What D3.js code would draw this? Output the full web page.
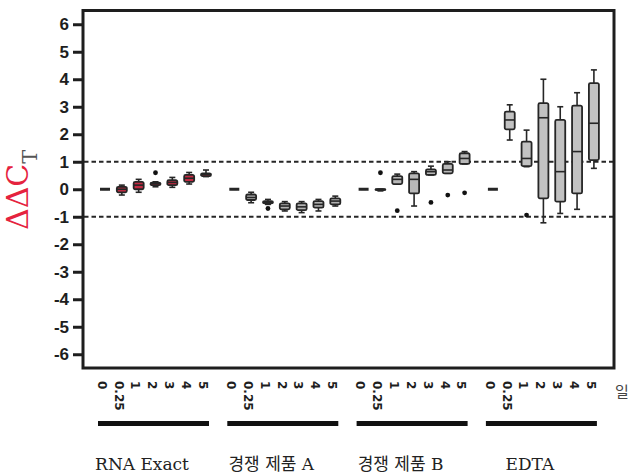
<!DOCTYPE html>
<html>
<head>
<meta charset="utf-8">
<script src="https://cdn.jsdelivr.net/npm/d3@7"></script>
<style>
  body { margin: 0; background: #fff; }
  svg { display: block; }
</style>
</head>
<body>
<svg id="chart"></svg>
<script>
const groups = ["RNA Exact", "경쟁 제품 A", "경쟁 제품 B", "EDTA"];
const days = ["0", "0.25", "1", "2", "3", "4", "5"];
const yTicks = [-6, -5, -4, -3, -2, -1, 0, 1, 2, 3, 4, 5, 6];
const refLines = [1, -1];

// each entry: [low whisker, q1, median, q3, high whisker]
const rnaExact = [
  [0, 0, 0, 0, 0],
  [-0.21, -0.11, 0, 0.09, 0.15],
  [-0.11, 0, 0.15, 0.27, 0.36],
  [0.09, 0.15, 0.21, 0.24, 0.27],
  [0.07, 0.15, 0.25, 0.33, 0.43],
  [0.19, 0.27, 0.4, 0.52, 0.61],
  [0.46, 0.48, 0.54, 0.58, 0.7]
];
const competitorA = [
  [0, 0, 0, 0, 0],
  [-0.49, -0.39, -0.3, -0.19, -0.11],
  [-0.55, -0.51, -0.47, -0.43, -0.37],
  [-0.79, -0.73, -0.61, -0.51, -0.45],
  [-0.85, -0.76, -0.64, -0.51, -0.45],
  [-0.79, -0.67, -0.55, -0.43, -0.37],
  [-0.61, -0.55, -0.43, -0.33, -0.25]
];
const competitorB = [
  [0, 0, 0, 0, 0],
  [-0.06, -0.03, 0, 0, 0],
  [0.19, 0.19, 0.36, 0.48, 0.55],
  [-0.61, -0.15, 0.36, 0.58, 0.64],
  [0.52, 0.52, 0.64, 0.72, 0.84],
  [0.58, 0.58, 0.7, 0.92, 1.0],
  [0.92, 0.92, 1.12, 1.31, 1.37]
];
const edta = [
  [0, 0, 0, 0, 0],
  [1.79, 2.18, 2.52, 2.82, 3.07],
  [0.82, 0.84, 1.12, 1.73, 2.15],
  [-1.22, -0.33, 2.6, 3.13, 4.0],
  [-0.88, -0.45, 0.64, 2.52, 3.0],
  [-0.73, -0.15, 1.37, 3.04, 3.51],
  [0.76, 1.06, 2.4, 3.86, 4.34]
];
// [group index, day, value]
const outliers = [
  [0, "2", 0.6],
  [1, "1", -0.7],
  [2, "0.25", 0.6],
  [2, "1", -0.78],
  [2, "3", -0.48],
  [2, "4", -0.21],
  [2, "5", -0.13],
  [3, "1", -0.94]
];

const groupStats = [rnaExact, competitorA, competitorB, edta];
const groupFill = ["#c42a42", "#b2b2b2", "#b8b8b8", "#c2c2c2"];

const width = 630;
const height = 474;
const ink = "#262626";

const svg = d3.select("#chart")
  .attr("width", width)
  .attr("height", height);

const y = d3.scaleLinear()
  .domain([-6.5, 6.5])
  .range([368, 10.5]);

const xGroup = d3.scaleBand()
  .domain(groups)
  .range([105, 105 + 4 * 129.3]);

const xDay = d3.scalePoint()
  .domain(days)
  .range([0, 101]);

const boxes = [];
groups.forEach((g, gi) => {
  days.forEach((d, di) => {
    const s = groupStats[gi][di];
    boxes.push({ g, gi, d, lo: s[0], q1: s[1], med: s[2], q3: s[3], hi: s[4] });
  });
});

const xPos = (g, d) => xGroup(g) + xDay(d);

// reference lines
svg.selectAll(".ref")
  .data(refLines)
  .join("line")
  .attr("class", "ref")
  .attr("x1", 84)
  .attr("x2", 614)
  .attr("y1", d => y(d))
  .attr("y2", d => y(d))
  .attr("stroke", ink)
  .attr("stroke-width", 2.2)
  .attr("stroke-dasharray", "4.5,3");

// boxes
const box = svg.selectAll(".box")
  .data(boxes)
  .join("g")
  .attr("class", "box")
  .attr("transform", d => `translate(${xPos(d.g, d.d)},0)`);

box.append("line")
  .attr("y1", d => y(d.hi))
  .attr("y2", d => y(d.lo))
  .attr("stroke", ink)
  .attr("stroke-width", 1.6);

box.selectAll(".cap")
  .data(d => [d.lo, d.hi])
  .join("line")
  .attr("class", "cap")
  .attr("x1", -3)
  .attr("x2", 3)
  .attr("y1", v => y(v))
  .attr("y2", v => y(v))
  .attr("stroke", ink)
  .attr("stroke-width", 1.6);

box.append("rect")
  .attr("x", -5)
  .attr("width", 10)
  .attr("y", d => y(d.q3))
  .attr("height", d => y(d.q1) - y(d.q3))
  .attr("rx", 1.5)
  .attr("fill", d => groupFill[d.gi])
  .attr("stroke", ink)
  .attr("stroke-width", 1.8);

box.append("line")
  .attr("x1", -5)
  .attr("x2", 5)
  .attr("y1", d => y(d.med))
  .attr("y2", d => y(d.med))
  .attr("stroke", ink)
  .attr("stroke-width", d => d.q3 === d.q1 ? 3 : 1.6);

svg.selectAll(".outlier")
  .data(outliers)
  .join("circle")
  .attr("class", "outlier")
  .attr("cx", d => xPos(groups[d[0]], d[1]))
  .attr("cy", d => y(d[2]))
  .attr("r", 2.4)
  .attr("fill", "#111");

// frame
svg.append("rect")
  .attr("x", 83)
  .attr("y", y(6.5))
  .attr("width", 531)
  .attr("height", y(-6.5) - y(6.5))
  .attr("fill", "none")
  .attr("stroke", "#1e1e1e")
  .attr("stroke-width", 3);

// y axis
const yAxis = d3.axisLeft(y)
  .tickValues(yTicks)
  .tickSize(10)
  .tickPadding(4)
  .tickFormat(d3.format("d"));

const yAxisG = svg.append("g")
  .attr("transform", "translate(83,0)")
  .call(yAxis);

yAxisG.select(".domain").remove();
yAxisG.selectAll(".tick line")
  .attr("stroke", "#1e1e1e")
  .attr("stroke-width", 3);
yAxisG.selectAll(".tick text")
  .attr("fill", "#1e1e1e")
  .style("font-family", "'Liberation Sans', Arial, sans-serif")
  .style("font-weight", "bold")
  .style("font-size", "17px")
  .text(d => d < 0 ? "-" + Math.abs(d) : d);

// y title
const yTitle = svg.append("text")
  .attr("transform", "translate(28,230) rotate(-90)")
  .style("font-family", "'DejaVu Serif', serif");
yTitle.append("tspan")
  .attr("fill", "#e5223e")
  .style("font-size", "30px")
  .text("ΔΔC");
yTitle.append("tspan")
  .attr("fill", "#555")
  .attr("dy", 9)
  .style("font-size", "21px")
  .style("font-weight", "300")
  .text("T");

// x tick labels
svg.selectAll(".xlab")
  .data(boxes)
  .join("text")
  .attr("class", "xlab")
  .attr("transform", d => `translate(${xPos(d.g, d.d) - 3},381) rotate(90)`)
  .attr("dy", "0.35em")
  .attr("fill", "#1e1e1e")
  .style("font-family", "'DejaVu Sans', sans-serif")
  .style("font-weight", "bold")
  .style("font-size", "12px")
  .text(d => d.d);

svg.append("text")
  .attr("x", 622)
  .attr("y", 397)
  .attr("text-anchor", "middle")
  .attr("fill", "#444")
  .style("font-family", "'Noto Sans CJK KR', sans-serif")
  .style("font-size", "15px")
  .text("일");

// group bars and labels
svg.selectAll(".gbar")
  .data(groups)
  .join("rect")
  .attr("class", "gbar")
  .attr("x", g => xGroup(g) - 7)
  .attr("y", 421)
  .attr("width", 111)
  .attr("height", 5)
  .attr("fill", "#111");

svg.selectAll(".glab")
  .data(groups)
  .join("text")
  .attr("class", "glab")
  .attr("x", g => xGroup(g) + 37)
  .attr("y", 470)
  .attr("text-anchor", "middle")
  .attr("fill", "#222")
  .style("font-family", "'DejaVu Serif', 'Noto Sans CJK KR', serif")
  .style("font-size", "17px")
  .text(g => g);
</script>
</body>
</html>
